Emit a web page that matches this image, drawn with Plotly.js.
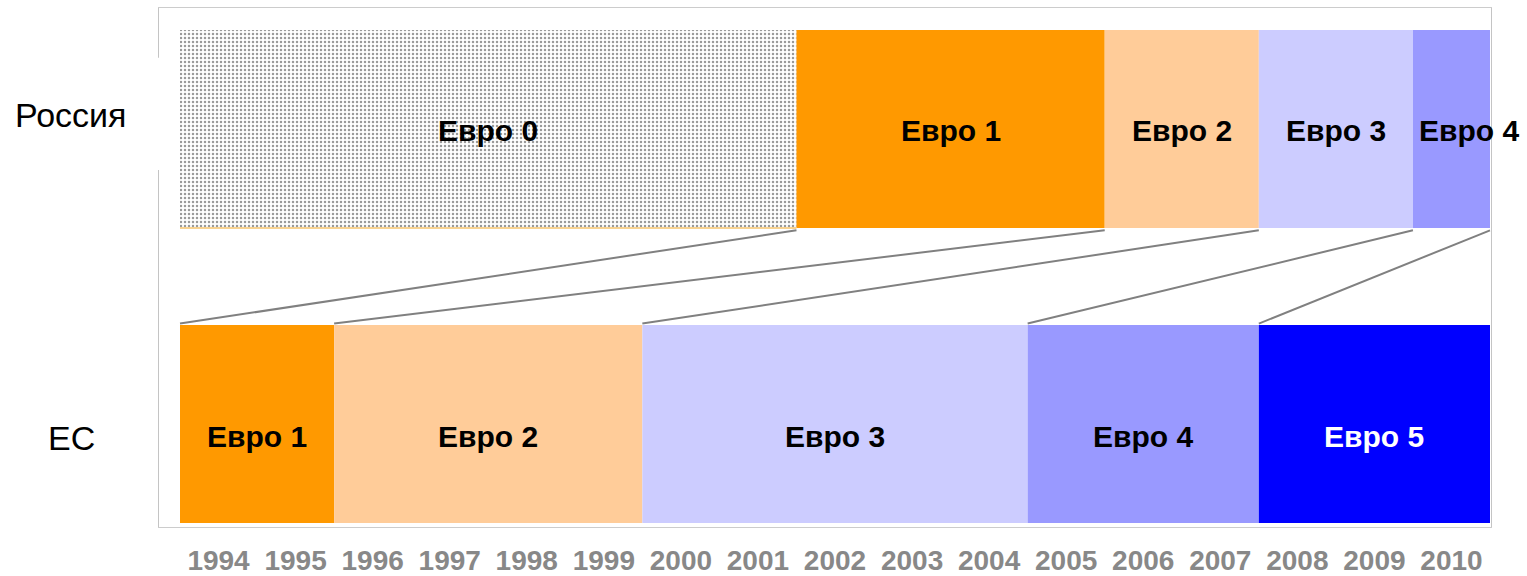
<!DOCTYPE html>
<html>
<head>
<meta charset="utf-8">
<script src="https://cdn.plot.ly/plotly-3.0.1.min.js"></script>
<style>html,body{margin:0;padding:0;background:#fff;}#chart{width:1527px;height:576px;}</style>
</head>
<body>
<div id="chart"></div>
<script>
// ---- data ----
const years = [1994,1995,1996,1997,1998,1999,2000,2001,2002,2003,2004,2005,2006,2007,2008,2009,2010];
const rows = ['ЕС','Россия'];

const ruStandards = ['Евро 0','Евро 1','Евро 2','Евро 3','Евро 4'];
const ruStart     = [1994, 2002, 2006, 2008, 2010];
const ruEnd       = [2001, 2005, 2007, 2009, 2010];

const euStandards = ['Евро 1','Евро 2','Евро 3','Евро 4','Евро 5'];
const euStart     = [1994, 1996, 2000, 2005, 2008];
const euEnd       = [1995, 1999, 2004, 2007, 2010];

// ---- styles ----
const colors = {
  'Евро 0': '#ffffff',
  'Евро 1': '#ff9900',
  'Евро 2': '#ffcc99',
  'Евро 3': '#ccccff',
  'Евро 4': '#9999ff',
  'Евро 5': '#0000ff'
};
const textColors = {'Евро 5': '#ffffff'};
const FONT = 'Liberation Sans, Arial, sans-serif';
const BARW = 0.671;
const rowY = {'ЕС': 0, 'Россия': 1};
const rowTextShift = {'ЕС': -12, 'Россия': -2};

const traces = [];
const annotations = [];
const shapes = [];

function addRow(row, names, starts, ends) {
  names.forEach((n, i) => {
    const base = starts[i] - 0.5;
    const len = ends[i] - starts[i] + 1;
    const tr = {
      type: 'bar', orientation: 'h',
      y: [rowY[row]], x: [len], base: [base],
      width: BARW,
      marker: {color: colors[n], line: {width: 0}},
      hoverinfo: 'skip', showlegend: false
    };
    if (n === 'Евро 0') {
      tr.marker.pattern = {shape: '.', size: 4, solidity: 0.3, fgcolor: '#9a9a9a', bgcolor: '#ffffff', fillmode: 'replace'};
    }
    traces.push(tr);
    annotations.push({
      x: base + len / 2, y: rowY[row], xref: 'x', yref: 'y',
      text: '<b>' + n + '</b>', showarrow: false,
      xshift: (row === 'Россия' && i === names.length - 1) ? 18 : 0,
      yshift: rowTextShift[row],
      font: {family: FONT, size: 30, color: textColors[n] || '#000000'}
    });
  });
}
addRow('Россия', ruStandards, ruStart, ruEnd);
addRow('ЕС', euStandards, euStart, euEnd);

// thin orange edge under Евро 0
shapes.push({type: 'line', xref: 'x', yref: 'y',
  x0: ruStart[0] - 0.5, x1: ruEnd[0] + 0.5,
  y0: rowY['Россия'] - BARW / 2, y1: rowY['Россия'] - BARW / 2,
  line: {color: '#f7c46c', width: 1.5}});

// connecting lines: Russia adoption -> EU adoption of the same standard
const ruLast = ruEnd[ruEnd.length - 1] + 0.5;
euStandards.forEach((n, i) => {
  const k = ruStandards.indexOf(n);
  const xr = k >= 0 ? ruStart[k] - 0.5 : ruLast;
  shapes.push({type: 'line', xref: 'x', yref: 'y',
    x0: xr, y0: rowY['Россия'] - BARW / 2 - 0.008,
    x1: euStart[i] - 0.5, y1: rowY['ЕС'] + BARW / 2 + 0.005,
    line: {color: '#808080', width: 2}});
});

// gap in left frame line next to "Россия"
shapes.push({type: 'rect', xref: 'paper', yref: 'paper', layer: 'above',
  x0: -0.004, x1: 0.004, y0: 0.688, y1: 0.904,
  fillcolor: '#ffffff', line: {width: 0}});

// row labels
rows.forEach(r => {
  annotations.push({
    xref: 'paper', yref: 'y', x: -0.066, y: rowY[r], yshift: r === 'Россия' ? 14 : -14,
    text: r, showarrow: false, xanchor: 'center',
    font: {family: FONT, size: 34, color: '#000000'}
  });
});

const layout = {
  width: 1527, height: 576,
  margin: {l: 159, r: 36, t: 8, b: 49},
  paper_bgcolor: '#ffffff', plot_bgcolor: '#ffffff',
  barmode: 'overlay',
  showlegend: false,
  xaxis: {
    range: [1993.2275, 2010.513],
    tickmode: 'array', tickvals: years, ticktext: years.map(y => '<b>' + y + '</b>'),
    tickfont: {family: FONT, size: 28, color: '#888888'},
    ticks: '', ticklabelstandoff: 8,
    showgrid: false, zeroline: false,
    showline: true, linecolor: '#cccccc', linewidth: 1, mirror: true
  },
  yaxis: {
    range: [-0.349, 1.410],
    showticklabels: false, ticks: '',
    showgrid: false, zeroline: false,
    showline: true, linecolor: '#c4c4c4', linewidth: 1, mirror: true
  },
  annotations: annotations,
  shapes: shapes
};

Plotly.newPlot('chart', traces, layout, {staticPlot: true, displayModeBar: false});
</script>
</body>
</html>
